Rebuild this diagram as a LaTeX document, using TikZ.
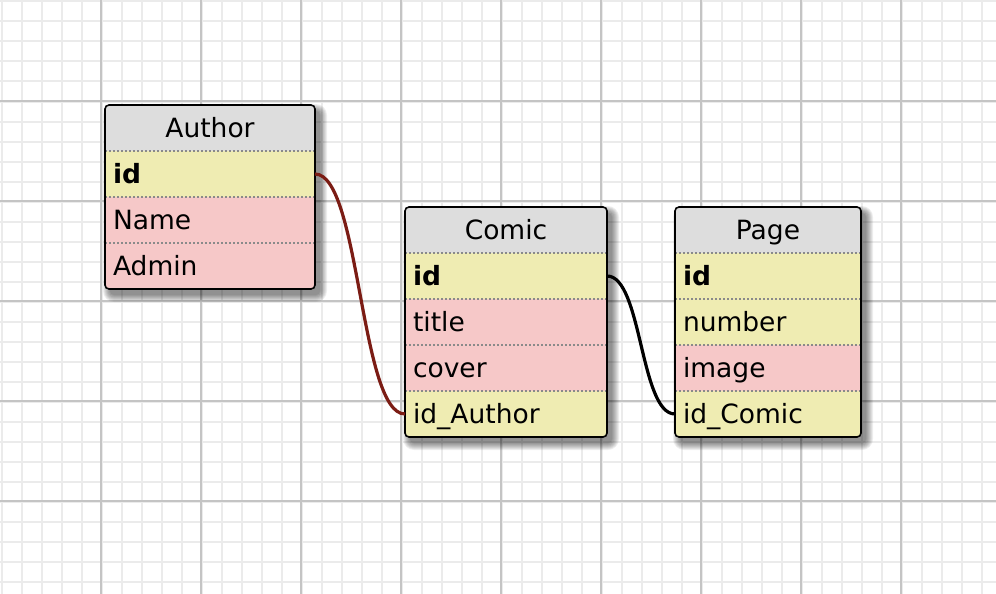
\documentclass[tikz,border=0pt]{standalone}
\usepackage{fontspec}
\setmainfont{DejaVu Sans}
\definecolor{hdrc}{HTML}{DDDDDD}
\definecolor{keyc}{HTML}{EFECB2}
\definecolor{attc}{HTML}{F6C8C8}
\definecolor{minorc}{HTML}{EBEBEB}
\definecolor{majorc}{HTML}{C4C4C4}
\definecolor{sepc}{HTML}{8A8A8A}
\definecolor{relred}{HTML}{7B1C14}
\tikzset{
  minorline/.style={draw=minorc,line width=2pt},
  majorline/.style={draw=majorc,line width=2pt},
  cell/.style={anchor=north west,minimum height=46pt,inner xsep=8pt,inner ysep=0pt,outer sep=0pt,
    text height=22pt,text depth=4pt,font=\fontsize{26.5}{30}\selectfont},
  hdr/.style={cell,fill=hdrc,align=center},
  keyrow/.style={cell,fill=keyc,align=left},
  attrow/.style={cell,fill=attc,align=left},
  sepline/.style={draw=sepc,line width=1.5pt,dash pattern=on 2pt off 2pt},
  border/.style={draw=black,line width=1.6pt,rounded corners=4pt},
  conn/.style={line width=3.2pt},
}
\newcommand\tblshadow[4]{%
  \foreach \k in {0,...,7}{
    \fill[black,opacity=0.065,rounded corners=4pt+\k pt]
      (#1+5-\k,#2+6-\k) rectangle (#3+5+\k,#4+6+\k);
  }}
\begin{document}
\begin{tikzpicture}[x=1pt,y=-1pt]
\useasboundingbox (0,0) rectangle (996,594);
\fill[white] (0,0) rectangle (996,594);
% grid
\foreach \i in {0,...,49} \draw[minorline] (\i*20+1.5,0) -- (\i*20+1.5,594);
\foreach \j in {0,...,29} \draw[minorline] (0,\j*20+1.5) -- (996,\j*20+1.5);
\foreach \i in {1,...,9} \draw[majorline] (\i*100+0.5,0) -- (\i*100+0.5,594);
\foreach \j in {1,...,5} \draw[majorline] (0,\j*100+0.5) -- (996,\j*100+0.5);
% shadows
\tblshadow{105}{105}{315}{289}
\tblshadow{405}{207}{607}{437}
\tblshadow{675}{207}{861}{437}
% ---- Author
\begin{scope}
\clip[rounded corners=4pt] (105,105) rectangle (315,289);
\begin{scope}[every node/.append style={text width=194pt}]
\node[hdr] (author) at (105,105) {Author};
\node[keyrow] (author-id) at (author.south west) {\textbf{id}};
\node[attrow] (author-name) at (author-id.south west) {Name};
\node[attrow] (author-admin) at (author-name.south west) {Admin};
\end{scope}
\end{scope}
\foreach \r in {author-id,author-name,author-admin}
  \draw[sepline] (\r.north west) -- (\r.north east);
\draw[border] (105,105) rectangle (315,289);
% ---- Comic
\begin{scope}
\clip[rounded corners=4pt] (405,207) rectangle (607,437);
\begin{scope}[every node/.append style={text width=186pt}]
\node[hdr] (comic) at (405,207) {Comic};
\node[keyrow] (comic-id) at (comic.south west) {\textbf{id}};
\node[attrow] (comic-title) at (comic-id.south west) {title};
\node[attrow] (comic-cover) at (comic-title.south west) {cover};
\node[keyrow] (comic-ida) at (comic-cover.south west) {id\_Author};
\end{scope}
\end{scope}
\foreach \r in {comic-id,comic-title,comic-cover,comic-ida}
  \draw[sepline] (\r.north west) -- (\r.north east);
\draw[border] (405,207) rectangle (607,437);
% ---- Page
\begin{scope}
\clip[rounded corners=4pt] (675,207) rectangle (861,437);
\begin{scope}[every node/.append style={text width=170pt}]
\node[hdr] (page) at (675,207) {Page};
\node[keyrow] (page-id) at (page.south west) {\textbf{id}};
\node[keyrow] (page-number) at (page-id.south west) {number};
\node[attrow] (page-image) at (page-number.south west) {image};
\node[keyrow] (page-idc) at (page-image.south west) {id\_Comic};
\end{scope}
\end{scope}
\foreach \r in {page-id,page-number,page-image,page-idc}
  \draw[sepline] (\r.north west) -- (\r.north east);
\draw[border] (675,207) rectangle (861,437);
% connectors
\draw[conn,relred] (author-id.east) .. controls +(45,0) and +(-45,0) .. (comic-ida.west);
\draw[conn,black] (comic-id.east) .. controls +(35,0) and +(-35,0) .. (page-idc.west);
\end{tikzpicture}
\end{document}
